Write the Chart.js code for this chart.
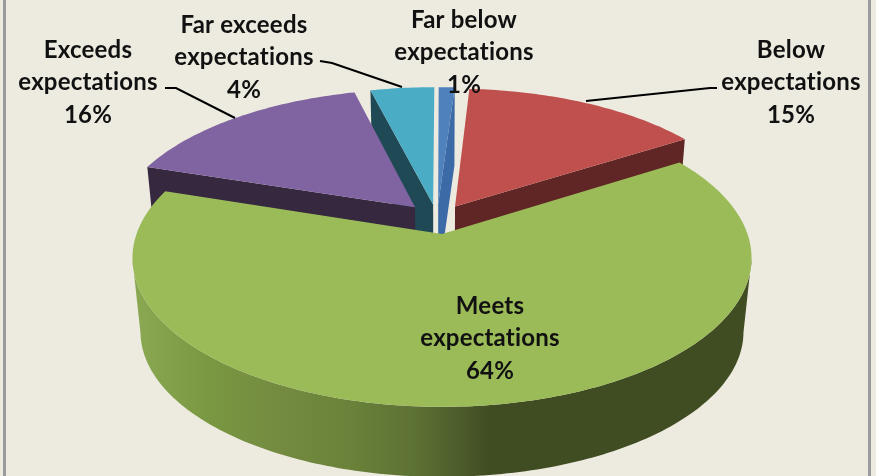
<!DOCTYPE html>
<html>
<head>
<meta charset="utf-8">
<title>Performance ratings</title>
<script src="https://cdn.jsdelivr.net/npm/chart.js@4"></script>
<style>
  html,body{margin:0;padding:0;background:#EDEBE0;overflow:hidden}
  #wrap{position:relative;width:876px;height:476px}
  .edge{position:absolute;top:0;bottom:0;width:3px;background:#9B9B9B}
</style>
</head>
<body>
<div id="wrap">
  <canvas id="pie" width="876" height="476"></canvas>
  <div class="edge" style="left:3px"></div>
  <div class="edge" style="left:868px"></div>
</div>
<script>
  // ratings, clockwise from 12 o'clock
  const categories=['Far below expectations','Below expectations','Meets expectations','Exceeds expectations','Far exceeds expectations'];
  const values=[1,15,64,16,4];
  const topColors=['#4F81BD','#C0504D','#9BBB59','#8064A2','#4BACC6'];
  const wallColors=['#3B6AA6','#5F2625','#404C22','#35283F','#1F4A55'];

  // ===== 3D view =====
  const VIEW={cx:442,cy:234,rx:305.5,ry:145,persp:0.161,drop:74.5,floor:0.974};
  // how far each slice is pulled out, in disc units (x, depth)
  const EXPLODE=[[-0.013,-0.21],[0.044,-0.195],[0,0],[-0.091,-0.19],[-0.03,-0.21]];
  // back slices first, the big slice goes on last
  const PAINT_ORDER=[1,0,4,3,2];

  // ===== labels =====
  const LABELS=[
    {i:0,x:464,y:20,lines:['Far below','expectations']},
    {i:1,x:791,y:50,lines:['Below','expectations']},
    {i:2,x:490,y:306,lines:['Meets','expectations']},
    {i:3,x:88,y:50,lines:['Exceeds','expectations']},
    {i:4,x:244,y:25,lines:['Far exceeds','expectations']}
  ];
  const LEADERS=[
    [[320,61],[332,63],[402,87]],
    [[165,88],[176,88],[235,118]],
    [[586,101],[710,88],[717,88]]
  ];
  const LINE_H=32.5;

  function project(u,v,low){
    const w=1-VIEW.persp*v;
    let x=VIEW.rx*u/w, y=VIEW.ry*v/w;
    if(low){ x*=VIEW.floor; y=y*VIEW.floor+VIEW.drop; }
    return [VIEW.cx+x,VIEW.cy+y];
  }
  function rimAngles(arc){
    // arc angles come from the pie controller, 0 = 3 o'clock
    const out=[], n=Math.max(2,Math.ceil((arc.endAngle-arc.startAngle)*180/Math.PI));
    for(let k=0;k<=n;k++) out.push(arc.startAngle+(arc.endAngle-arc.startAngle)*k/n);
    return out;
  }
  const rimPoints=(angles,s,low)=>angles.map(a=>project(Math.cos(a)+s[0],Math.sin(a)+s[1],low));
  function fillPoly(ctx,pts,color){
    ctx.beginPath();
    pts.forEach((p,i)=> i?ctx.lineTo(p[0],p[1]):ctx.moveTo(p[0],p[1]));
    ctx.closePath(); ctx.fillStyle=color; ctx.fill();
  }
  function greenWall(ctx){
    const g=ctx.createLinearGradient(133,0,752,0);
    g.addColorStop(0,'#8BA952'); g.addColorStop(0.12,'#7A9842'); g.addColorStop(0.24,'#738A40');
    g.addColorStop(0.35,'#6A8239'); g.addColorStop(0.46,'#5C7034'); g.addColorStop(0.52,'#4E5F2C');
    g.addColorStop(0.575,'#404C22'); g.addColorStop(1,'#404C22');
    return g;
  }
  // >0 when the cut face along this edge leans out to the right of its top edge
  const edgeCross=(apex,tip,apexLow)=>(tip[0]-apex[0])*(apexLow[1]-apex[1])-(tip[1]-apex[1])*(apexLow[0]-apex[0]);

  const pie3d={
    id:'pie3d',
    beforeDatasetsDraw(chart){
      const ctx=chart.ctx, arcs=chart.getDatasetMeta(0).data;
      ctx.save();
      for(const i of PAINT_ORDER){
        const arc=arcs[i], s=EXPLODE[i], angles=rimAngles(arc);
        const top=rimPoints(angles,s,false), low=rimPoints(angles,s,true);
        const apex=project(s[0],s[1],false), apexLow=project(s[0],s[1],true);
        const wall=i===2?greenWall(ctx):wallColors[i];
        const first=top[0], last=top[top.length-1];
        // cut faces, only the ones turned towards the viewer
        if(edgeCross(apex,first,apexLow)<-500) fillPoly(ctx,[apex,first,low[0],apexLow],wall);
        if(edgeCross(apex,last,apexLow)>500) fillPoly(ctx,[apex,last,low[low.length-1],apexLow],wall);
        // outer wall, front part of the rim only
        const front=angles.filter(a=>Math.sin(a)+s[1]>=VIEW.persp);
        if(front.length>1){
          fillPoly(ctx,rimPoints(front,s,false).concat(rimPoints(front,s,true).reverse()),wall);
        }
        fillPoly(ctx,[apex].concat(top),arc.options.backgroundColor);
      }
      ctx.restore();
      return false; // slices are painted above, skip the flat pie
    },
    afterDraw(chart){
      const ctx=chart.ctx;
      ctx.save();
      ctx.strokeStyle='#000'; ctx.lineWidth=2;
      for(const l of LEADERS){
        ctx.beginPath();
        l.forEach((p,i)=> i?ctx.lineTo(p[0],p[1]):ctx.moveTo(p[0],p[1]));
        ctx.stroke();
      }
      ctx.fillStyle='#111'; ctx.font='bold 24px Lato'; ctx.textAlign='center'; ctx.textBaseline='middle';
      ctx.textRendering='optimizeSpeed'; ctx.letterSpacing='0.2px';
      for(const l of LABELS){
        l.lines.concat(values[l.i]+'%').forEach((t,k)=>ctx.fillText(t,l.x,l.y+k*LINE_H));
      }
      ctx.restore();
    }
  };

  new Chart(document.getElementById('pie'),{
    type:'pie',
    data:{labels:categories,datasets:[{data:values,backgroundColor:topColors,borderWidth:0}]},
    options:{responsive:false,animation:false,plugins:{legend:{display:false},tooltip:{enabled:false}}},
    plugins:[pie3d]
  });
</script>
</body>
</html>
